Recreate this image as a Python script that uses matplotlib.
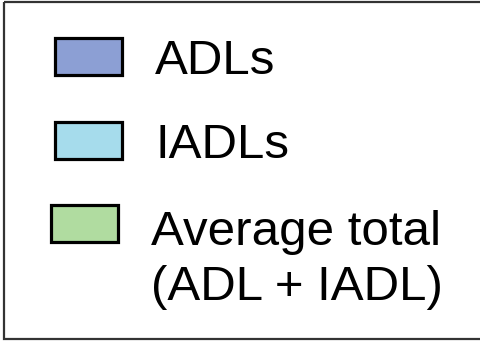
import matplotlib
matplotlib.use("Agg")
import matplotlib.pyplot as plt
from matplotlib.patches import Rectangle

labels = ["ADLs", "IADLs", "Average total\n(ADL + IADL)"]
colors = ["#8c9fd4", "#a6dcec", "#b0dca0"]

W, H, DPI = 480, 342, 100
fig = plt.figure(figsize=(W / DPI, H / DPI), dpi=DPI)
fig.patch.set_facecolor("white")
ax = fig.add_axes([0, 0, 1, 1])
ax.set_xlim(0, W)
ax.set_ylim(H, 0)
ax.axis("off")

# outer border (right edge is outside the image)
ax.add_patch(Rectangle((4, 1.5), W + 20, H - 5, fill=False,
                       edgecolor="#333333", linewidth=1.6, clip_on=False))

# layout (pixels): row top, x shift per entry
row_top = [38, 122, 205]
x_shift = [0, 0, -4]
patch_w, patch_h = 67, 37
line_pitch = 59
for lab, col, top, dx in zip(labels, colors, row_top, x_shift):
    ax.add_patch(Rectangle((55 + dx, top), patch_w, patch_h, facecolor=col,
                           edgecolor="black", linewidth=2.3))
    n_extra = lab.count("\n")
    ax.text(155 + dx, top + 36 + n_extra * line_pitch, lab, ha="left",
            va="baseline", fontsize=35.5, family="Liberation Sans",
            linespacing=1.29)

fig.savefig("out.png", dpi=DPI)
